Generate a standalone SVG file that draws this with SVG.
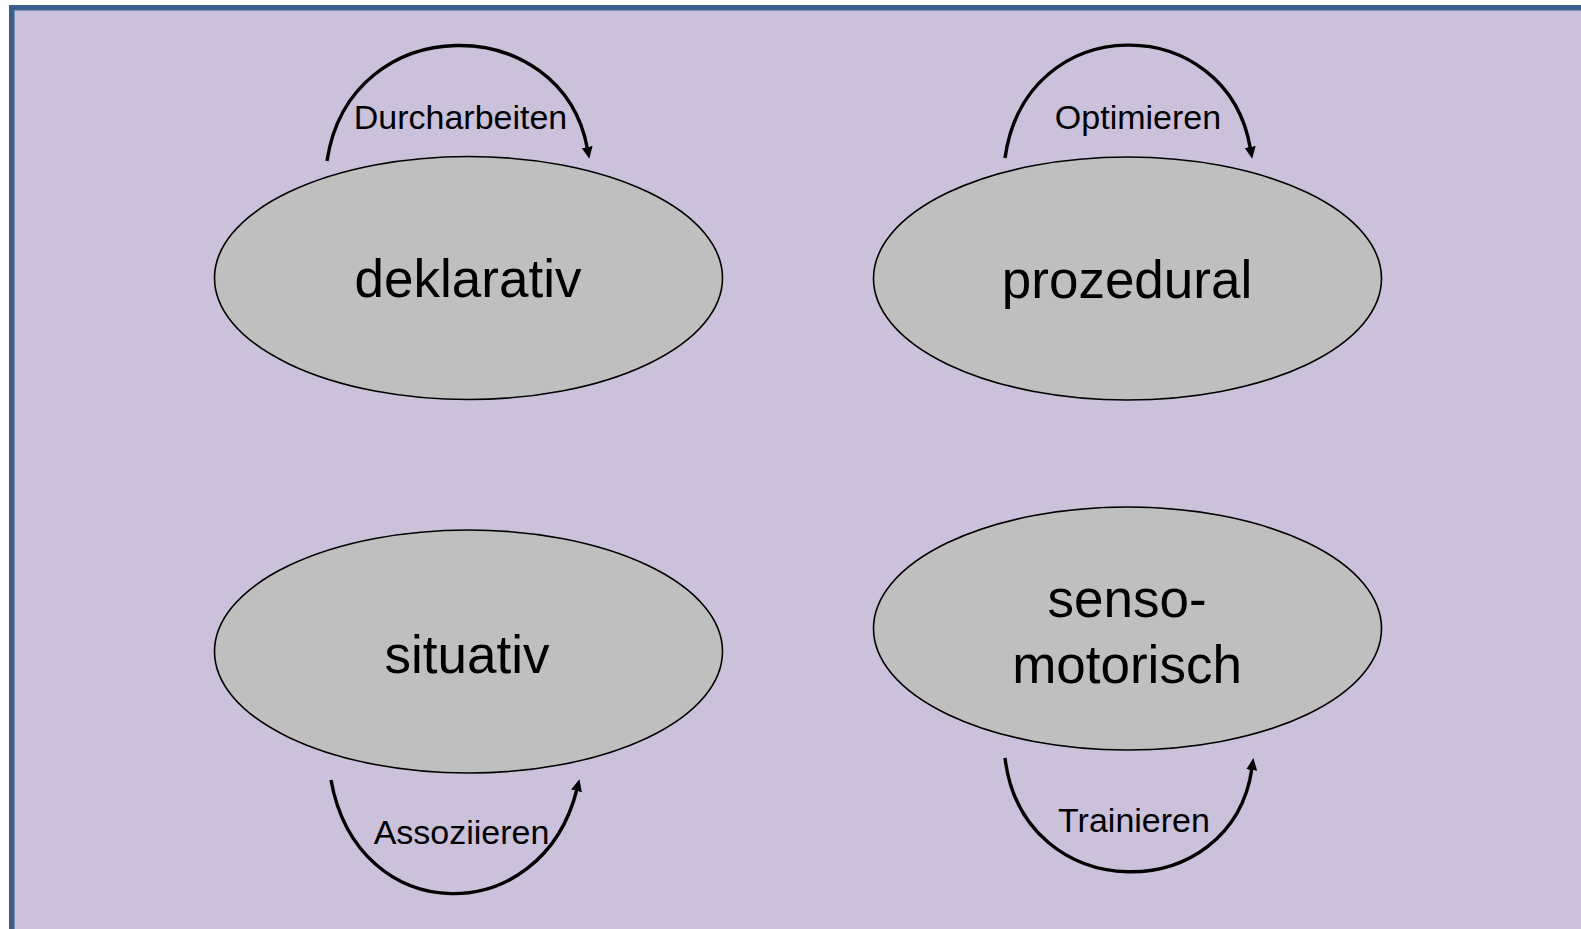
<svg xmlns="http://www.w3.org/2000/svg" width="1581" height="929" viewBox="0 0 1581 929">
<style>
.node ellipse{fill:#bfbfbf;stroke:#000;stroke-width:1.6}
.big{font-family:"Liberation Sans",Arial,sans-serif;font-size:53px;fill:#000;text-anchor:middle}
.lbl{font-family:"Liberation Sans",Arial,sans-serif;font-size:34px;fill:#000;text-anchor:middle}
.conn path{fill:none;stroke:#000;stroke-width:3.4}
</style>
<defs>
<marker id="ah" markerUnits="userSpaceOnUse" markerWidth="14" markerHeight="12" refX="2" refY="5.5" orient="auto">
<path d="M0,0 L12,5.5 L0,11 z" fill="#000"/>
</marker>
</defs>
<rect x="0" y="0" width="1581" height="929" fill="#fff"/>
<rect x="11.5" y="7.5" width="1620" height="1000" fill="#cbc1db" stroke="#3b5e8c" stroke-width="5"/>
<rect x="14.5" y="10.5" width="1620" height="1000" fill="none" stroke="#8094bb" stroke-width="1"/>
<g id="deklarativ" class="node">
<ellipse cx="468.5" cy="278" rx="254" ry="121.5"/>
<text class="big" x="468" y="297">deklarativ</text>
</g>
<g id="prozedural" class="node">
<ellipse cx="1127.5" cy="278.5" rx="254" ry="121.5"/>
<text class="big" x="1127" y="298">prozedural</text>
</g>
<g id="situativ" class="node">
<ellipse cx="468.5" cy="651.5" rx="254" ry="121.5"/>
<text class="big" x="467" y="672.5">situativ</text>
</g>
<g id="sensomotorisch" class="node">
<ellipse cx="1127.5" cy="628.5" rx="254" ry="121.5"/>
<text class="big" x="1127" y="616.5">senso-</text>
<text class="big" x="1127" y="682.5">motorisch</text>
</g>
<g id="connectors" class="conn">
<path d="M327,161 C350,8 562,10 587.5,149" marker-end="url(#ah)"/>
<path d="M1005,158 C1026,8 1227,10 1250.5,149" marker-end="url(#ah)"/>
<path d="M331,780 C358,930 542,930 577,789" marker-end="url(#ah)"/>
<path d="M1005,758 C1023,908 1232,908 1252,768" marker-end="url(#ah)"/>
<text class="lbl" x="460.5" y="129">Durcharbeiten</text>
<text class="lbl" x="1138" y="129">Optimieren</text>
<text class="lbl" x="461.5" y="844">Assoziieren</text>
<text class="lbl" x="1134" y="831.5">Trainieren</text>
</g>
</svg>
